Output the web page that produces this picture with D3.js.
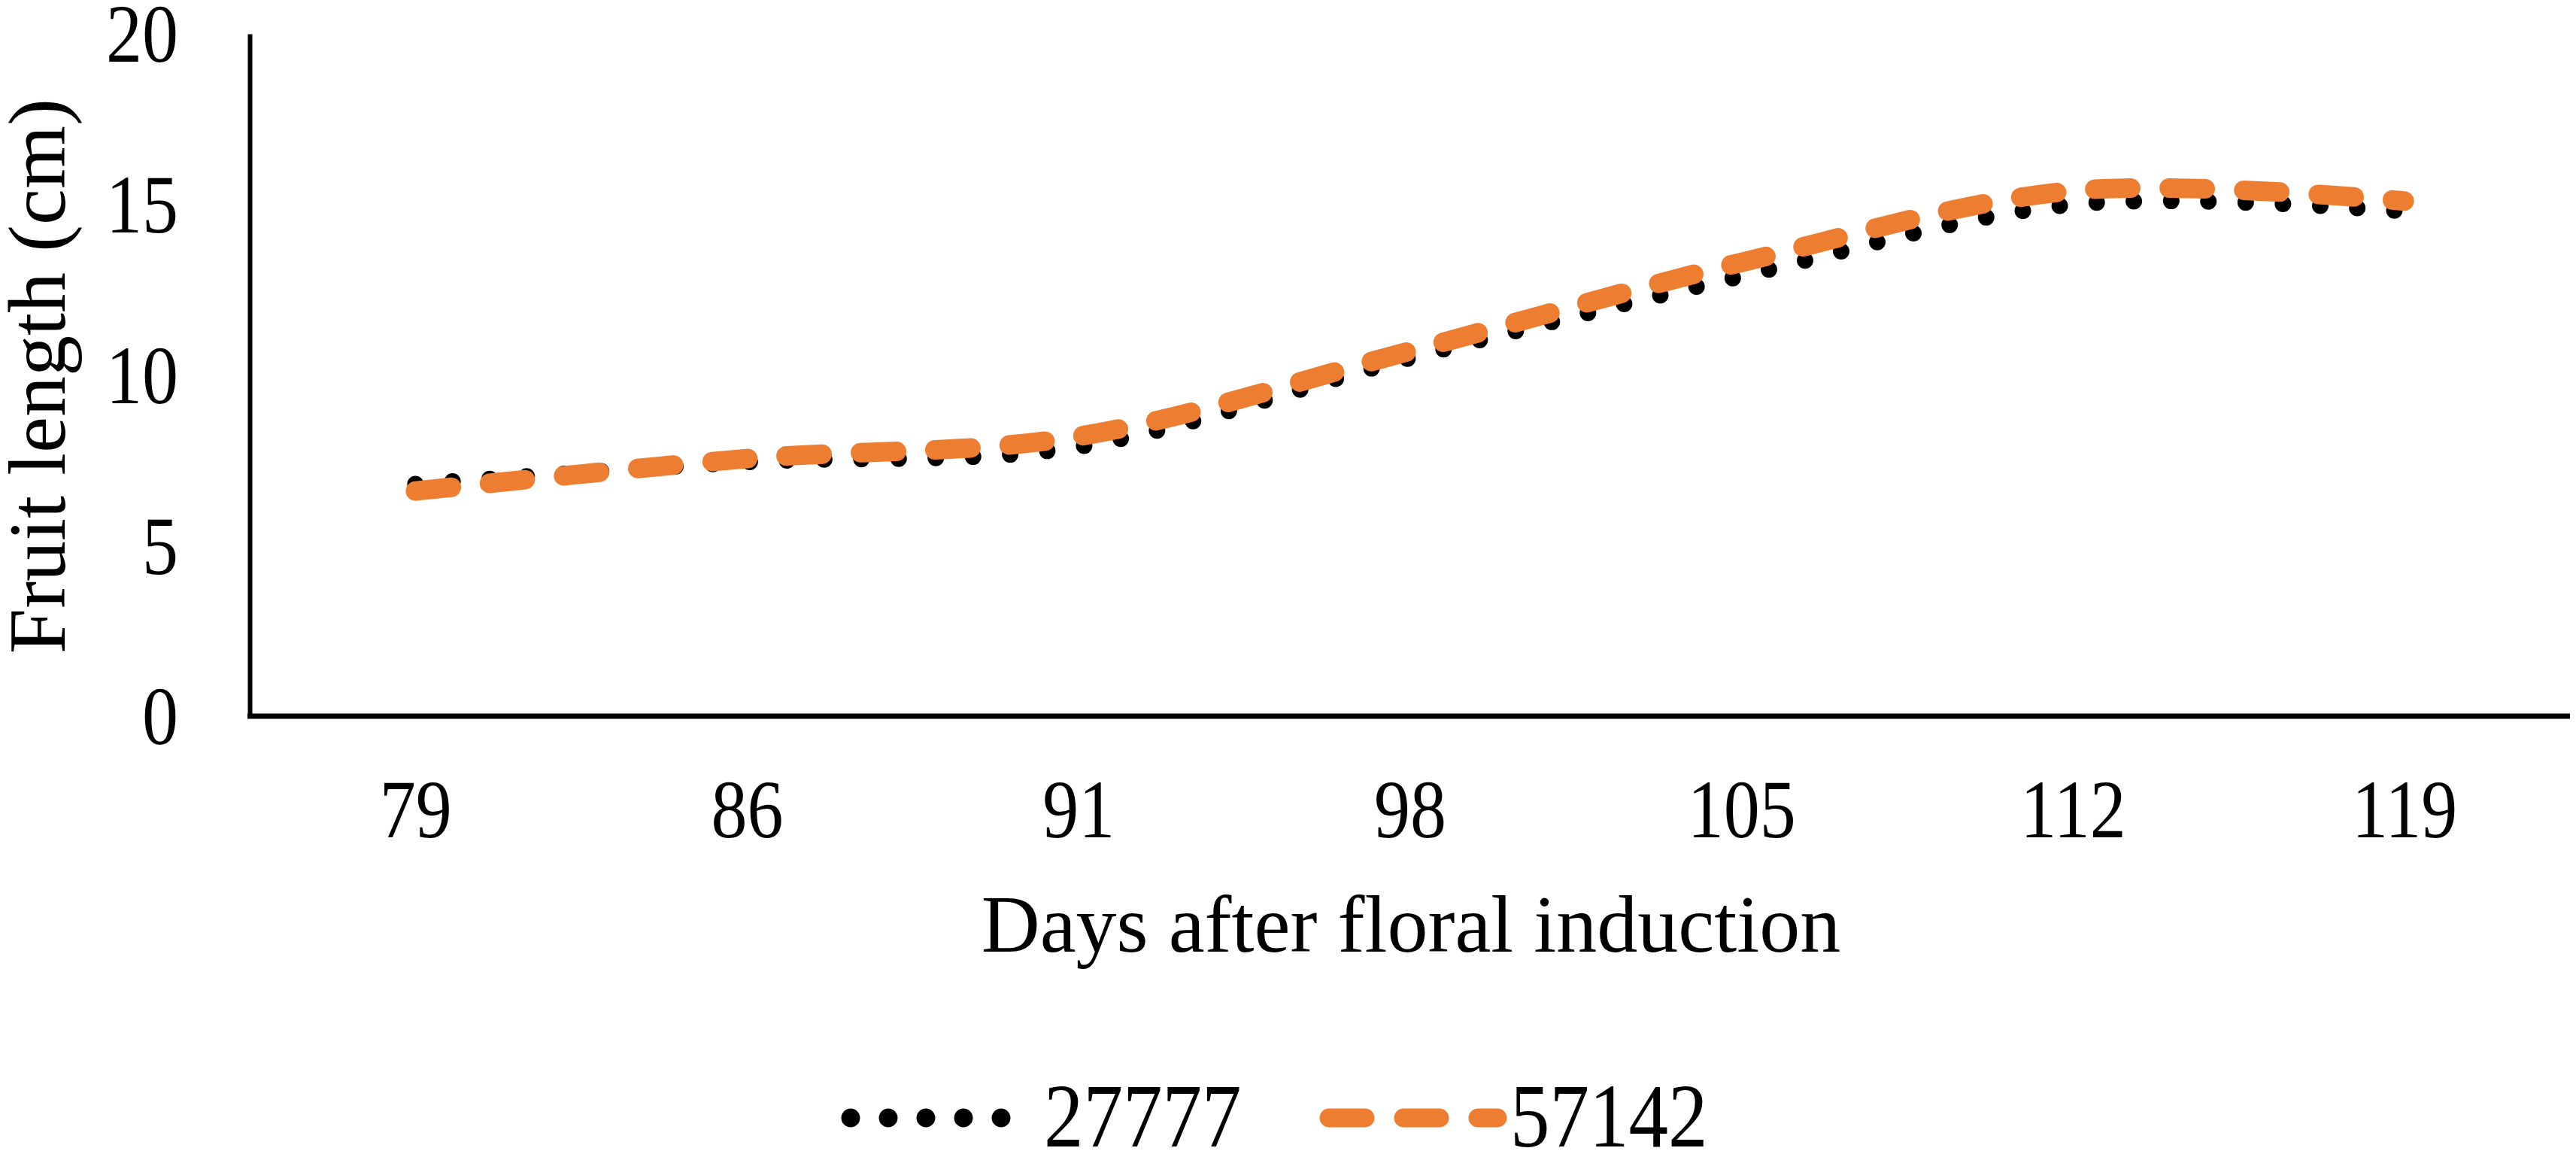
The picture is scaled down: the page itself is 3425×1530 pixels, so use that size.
<!DOCTYPE html>
<html>
<head>
<meta charset="utf-8">
<script src="https://cdn.jsdelivr.net/npm/d3@7"></script>
<style>
  html, body { margin: 0; padding: 0; background: #fff; }
  svg { display: block; }
  text { font-family: "Liberation Serif", "Times New Roman", serif; fill: #000; }
</style>
</head>
<body>
<script>
// ---- data ----
const days = ["79", "86", "91", "98", "105", "112", "119"];
const series27777 = [6.8, 7.45, 7.9, 10.5, 12.9, 15.0, 14.8];
const series57142 = [6.6, 7.55, 8.2, 10.7, 13.3, 15.4, 15.1];
const seriesNames = ["27777", "57142"];
const yTicks = [0, 5, 10, 15, 20];
const xTitle = "Days after floral induction";
const yTitle = "Fruit length (cm)";

(function () {
const W = 3425, H = 1530;
const svg = d3.select("body").append("svg").attr("width", W).attr("height", H);

const mLeft = 332, mRight = 3417, mTop = 45, mBottom = 952;
const x = d3.scalePoint().domain(days).range([mLeft, mRight]).padding(0.5);
const y = d3.scaleLinear().domain([0, 20]).range([mBottom, mTop]);

const stretch = 1.14;

// y axis
const yAxis = svg.append("g").attr("transform", `translate(${mLeft},0)`)
  .call(d3.axisLeft(y).tickValues(yTicks).tickSize(0).tickSizeOuter(0).tickPadding(0).tickFormat(d3.format("d")));
yAxis.select(".domain").attr("stroke", "#000").attr("stroke-width", 6);
yAxis.selectAll(".tick text")
  .attr("x", null).attr("dy", null)
  .attr("y", "0.338em")
  .attr("text-anchor", "end")
  .style("font-size", "96px")
  .style("font-family", "'Liberation Serif', serif")
  .attr("transform", `translate(-95,0) scale(1,${stretch})`);

// x axis
const xAxis = svg.append("g").attr("transform", `translate(0,${mBottom})`)
  .call(d3.axisBottom(x).tickSize(0).tickSizeOuter(0).tickPadding(0));
xAxis.select(".domain").attr("stroke", "#000").attr("stroke-width", 7)
  .attr("d", `M${mLeft - 3},0H${mRight}`);
xAxis.selectAll(".tick text")
  .attr("dy", null)
  .attr("y", 141)
  .style("font-size", "96px")
  .style("font-family", "'Liberation Serif', serif")
  .attr("transform", `scale(1,${stretch})`);

// titles
svg.append("text").attr("x", 1876).attr("y", 1265).attr("text-anchor", "middle")
  .style("font-size", "108px").text(xTitle);
svg.append("text").attr("transform", "translate(86,500) rotate(-90)").attr("text-anchor", "middle")
  .style("font-size", "108px").text(yTitle);

// lines
const line = d3.line().x((d, i) => x(days[i])).y(d => y(d)).curve(d3.curveCatmullRom.alpha(0));

svg.append("path").datum(series27777).attr("d", line)
  .attr("fill", "none").attr("stroke", "#000").attr("stroke-width", 22)
  .attr("stroke-linecap", "round").attr("stroke-dasharray", "0,49.5");
svg.append("path").datum(series57142).attr("d", line)
  .attr("fill", "none").attr("stroke", "#ED7D31").attr("stroke-width", 26)
  .attr("stroke-linecap", "round").attr("stroke-dasharray", "48,51");

// legend
const lg = svg.append("g");
const ly = 1486;
lg.append("line").attr("x1", 1131).attr("x2", 1370).attr("y1", ly).attr("y2", ly)
  .attr("stroke", "#000").attr("stroke-width", 25).attr("stroke-linecap", "round")
  .attr("stroke-dasharray", "0,50");
lg.append("text").attr("transform", `translate(1388,1524) scale(1,${stretch})`)
  .style("font-size", "105px").text(seriesNames[0]);
lg.append("line").attr("x1", 1767).attr("x2", 1991).attr("y1", ly).attr("y2", ly)
  .attr("stroke", "#ED7D31").attr("stroke-width", 25).attr("stroke-linecap", "round")
  .attr("stroke-dasharray", "48,51");
lg.append("text").attr("transform", `translate(2008,1524) scale(1,${stretch})`)
  .style("font-size", "105px").text(seriesNames[1]);
})();
</script>
</body>
</html>
